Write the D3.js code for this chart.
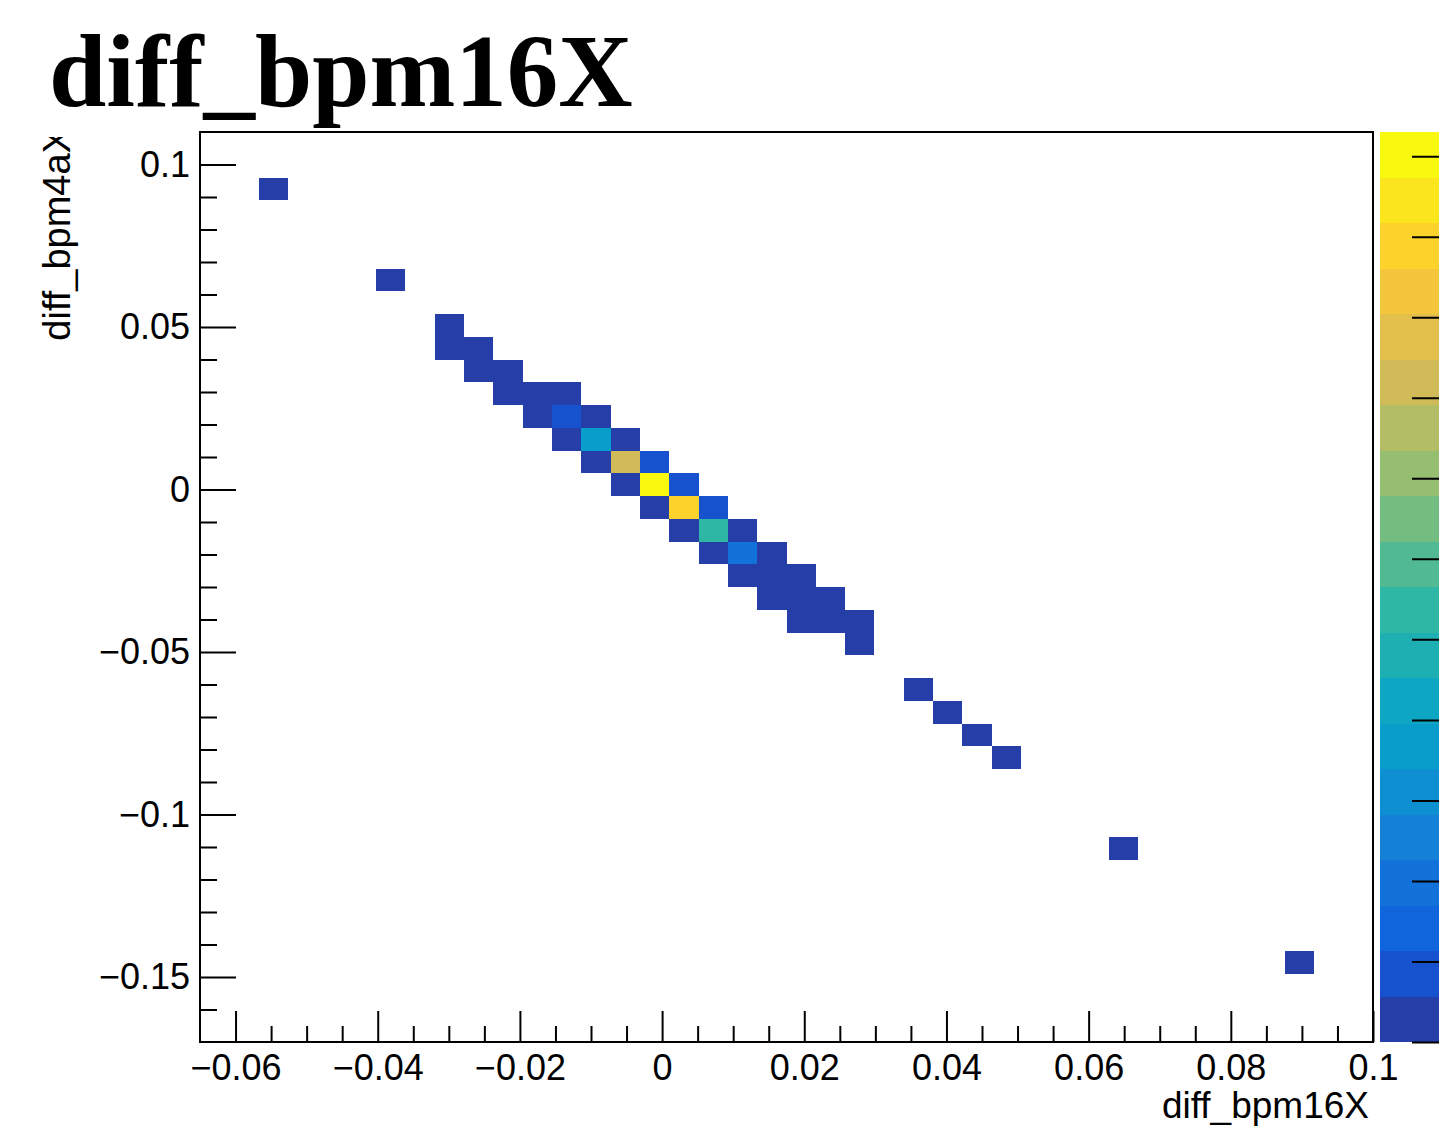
<!DOCTYPE html>
<html>
<head>
<meta charset="utf-8">
<script src="https://cdn.jsdelivr.net/npm/d3@7"></script>
<style>
  html, body { margin: 0; padding: 0; background: #fff; }
  svg { display: block; }
</style>
</head>
<body>
<script>
// ---------- data ----------
const titleText = "diff_bpm16X";
const xTitle = "diff_bpm16X";
const yTitle = "diff_bpm4aX";

const xDomain = [-0.065, 0.1];
const yDomain = [-0.17, 0.11];
const nBinsX = 40;
const nBinsY = 40;

const xTicks = [-0.06, -0.04, -0.02, 0, 0.02, 0.04, 0.06, 0.08, 0.1];
const xTickLabels = ["\u22120.06", "\u22120.04", "\u22120.02", "0", "0.02", "0.04", "0.06", "0.08", "0.1"];
const yTicks = [-0.15, -0.1, -0.05, 0, 0.05, 0.1];
const yTickLabels = ["\u22120.15", "\u22120.1", "\u22120.05", "0", "0.05", "0.1"];
const xMinorStep = 0.005;
const yMinorStep = 0.01;

// lower bin edges of filled cells and their counts
const cellX = [-0.05675, -0.04025,
  -0.032, -0.032,
  -0.027875, -0.027875,
  -0.02375, -0.02375,
  -0.019625, -0.019625,
  -0.0155, -0.0155, -0.0155,
  -0.011375, -0.011375, -0.011375,
  -0.00725, -0.00725, -0.00725,
  -0.003125, -0.003125, -0.003125,
  0.001, 0.001, 0.001,
  0.005125, 0.005125, 0.005125,
  0.00925, 0.00925, 0.00925,
  0.013375, 0.013375, 0.013375,
  0.0175, 0.0175, 0.0175,
  0.021625, 0.021625,
  0.02575, 0.02575,
  0.034, 0.038125, 0.04225, 0.046375, 0.062875, 0.087625];
const cellY = [0.089, 0.061,
  0.047, 0.04,
  0.04, 0.033,
  0.033, 0.026,
  0.026, 0.019,
  0.026, 0.019, 0.012,
  0.019, 0.012, 0.005,
  0.012, 0.005, -0.002,
  0.005, -0.002, -0.009,
  -0.002, -0.009, -0.016,
  -0.009, -0.016, -0.023,
  -0.016, -0.023, -0.03,
  -0.023, -0.03, -0.037,
  -0.03, -0.037, -0.044,
  -0.037, -0.044,
  -0.044, -0.051,
  -0.065, -0.072, -0.079, -0.086, -0.114, -0.149];
const cellCount = [1, 1,
  2, 3,
  3, 4,
  3, 4,
  5, 4,
  3, 9, 4,
  5, 37, 3,
  5, 82, 2,
  8, 113, 4,
  9, 99, 3,
  8, 53, 5,
  4, 20, 3,
  5, 4, 2,
  3, 4, 2,
  3, 2,
  2, 1,
  1, 1, 1, 1, 1, 1];

const zMin = 0;
const zMax = 113;
const nContours = 20;
const zTicks = [0, 10, 20, 30, 40, 50, 60, 70, 80, 90, 100, 110];

// ROOT kBird palette stops
const birdStops = [0.0, 0.125, 0.25, 0.375, 0.5, 0.625, 0.75, 0.875, 1.0];
const birdR = [0.2082, 0.0592, 0.0780, 0.0232, 0.1802, 0.5301, 0.8186, 0.9956, 0.9764];
const birdG = [0.1664, 0.3599, 0.5041, 0.6419, 0.7178, 0.7492, 0.7328, 0.7862, 0.9832];
const birdB = [0.5293, 0.8684, 0.8385, 0.7914, 0.6425, 0.4662, 0.3499, 0.1968, 0.0539];

// ---------- palette (like TColor::CreateGradientColorTable, 255 colours) ----------
const NCOL = 255;
const palette = [];
for (let g = 1; g < birdStops.length; g++) {
  const n = Math.floor(NCOL * birdStops[g]) - Math.floor(NCOL * birdStops[g - 1]);
  for (let c = 0; c < n; c++) {
    const r = birdR[g - 1] + c * (birdR[g] - birdR[g - 1]) / n;
    const gg = birdG[g - 1] + c * (birdG[g] - birdG[g - 1]) / n;
    const b = birdB[g - 1] + c * (birdB[g] - birdB[g - 1]) / n;
    palette.push(d3.rgb(r * 255, gg * 255, b * 255).formatHex());
  }
}
const bandColor = k => palette[Math.min(NCOL - 1, Math.floor((k + 0.99) * NCOL / nContours))];
const bandOf = v => Math.min(nContours - 1, Math.floor((v - zMin) * nContours / (zMax - zMin)));

// ---------- layout ----------
const W = 1439, H = 1140;
const frame = { left: 200, right: 1373, top: 132, bottom: 1042 };
const pal = { left: 1380, right: 1452 };
const FONT = "'Liberation Sans', Arial, Helvetica, sans-serif";

const svg = d3.select("body").append("svg").attr("width", W).attr("height", H);

const x = d3.scaleLinear().domain(xDomain).range([frame.left, frame.right]);
const y = d3.scaleLinear().domain(yDomain).range([frame.bottom, frame.top]);
const z = d3.scaleLinear().domain([zMin, zMax]).range([frame.bottom, frame.top]);

const bwX = (xDomain[1] - xDomain[0]) / nBinsX;
const bwY = (yDomain[1] - yDomain[0]) / nBinsY;

// cells
const cells = cellX.map((cx, i) => ({ x0: cx, y0: cellY[i], c: cellCount[i] }));
svg.append("g").selectAll("rect").data(cells).join("rect")
  .attr("x", d => x(d.x0))
  .attr("y", d => y(d.y0 + bwY))
  .attr("width", d => x(d.x0 + bwX) - x(d.x0))
  .attr("height", d => y(d.y0) - y(d.y0 + bwY))
  .attr("fill", d => bandColor(bandOf(d.c)))
  .attr("shape-rendering", "crispEdges");

// minor ticks helpers
function range(a, b, s) {
  const out = [];
  const n = Math.round((b - a) / s);
  for (let i = 0; i <= n; i++) out.push(+(a + i * s).toFixed(6));
  return out;
}
const xMinor = range(-0.06, 0.1, xMinorStep).filter(v => !xTicks.some(t => Math.abs(t - v) < 1e-9));
const yMinor = range(-0.17, 0.11, yMinorStep).filter(v => v > yDomain[0] + 1e-9 && v < yDomain[1] - 1e-9 && !yTicks.some(t => Math.abs(t - v) < 1e-9));

// x axis
const gx = svg.append("g").attr("transform", `translate(0,${frame.bottom})`);
gx.call(d3.axisBottom(x).tickValues(xTicks).tickSize(-31).tickPadding(12)
  .tickFormat((d, i) => xTickLabels[i]));
const gxm = svg.append("g").attr("transform", `translate(0,${frame.bottom})`);
gxm.call(d3.axisBottom(x).tickValues(xMinor).tickSize(-16).tickFormat(""));

// y axis
const gy = svg.append("g").attr("transform", `translate(${frame.left},0)`);
gy.call(d3.axisLeft(y).tickValues(yTicks).tickSize(-36).tickPadding(10)
  .tickFormat((d, i) => yTickLabels[i]));
const gym = svg.append("g").attr("transform", `translate(${frame.left},0)`);
gym.call(d3.axisLeft(y).tickValues(yMinor).tickSize(-17).tickFormat(""));

[gx, gxm, gy, gym].forEach(g => {
  g.select(".domain").remove();
  g.selectAll(".tick line").attr("stroke", "#000").attr("stroke-width", 2);
  g.selectAll("text").attr("font-family", FONT).attr("font-size", 36).attr("fill", "#000");
});
gx.selectAll("text").attr("dy", "0.71em");

// frame
svg.append("rect")
  .attr("x", frame.left).attr("y", frame.top)
  .attr("width", frame.right - frame.left).attr("height", frame.bottom - frame.top)
  .attr("fill", "none").attr("stroke", "#000").attr("stroke-width", 2);

// palette (colour bar)
const bands = d3.range(nContours);
svg.append("g").selectAll("rect").data(bands).join("rect")
  .attr("x", pal.left)
  .attr("width", pal.right - pal.left)
  .attr("y", k => z(zMin + (k + 1) * (zMax - zMin) / nContours))
  .attr("height", k => z(zMin + k * (zMax - zMin) / nContours) - z(zMin + (k + 1) * (zMax - zMin) / nContours))
  .attr("fill", k => bandColor(k))
  .attr("shape-rendering", "crispEdges");
const gz = svg.append("g").attr("transform", `translate(${pal.right},0)`);
gz.call(d3.axisRight(z).tickValues(zTicks).tickSize(-40).tickFormat(""));
gz.select(".domain").remove();
gz.selectAll(".tick line").attr("stroke", "#000").attr("stroke-width", 2);

// axis titles
svg.append("text")
  .attr("x", 1369).attr("y", 1118)
  .attr("text-anchor", "end")
  .attr("font-family", FONT).attr("font-size", 37)
  .text(xTitle);

svg.append("clipPath").attr("id", "ytclip")
  .append("rect").attr("x", 0).attr("y", 137).attr("width", 200).attr("height", 900);
svg.append("g").attr("clip-path", "url(#ytclip)")
  .append("text")
  .attr("transform", `translate(70,128) rotate(-90)`)
  .attr("text-anchor", "end")
  .attr("font-family", FONT).attr("font-size", 38)
  .text(yTitle);

// main title
svg.append("text")
  .attr("x", 49).attr("y", 106)
  .attr("font-family", "'Liberation Serif', 'Times New Roman', serif")
  .attr("font-weight", "bold")
  .attr("font-size", 103)
  .text(titleText);
</script>
</body>
</html>
